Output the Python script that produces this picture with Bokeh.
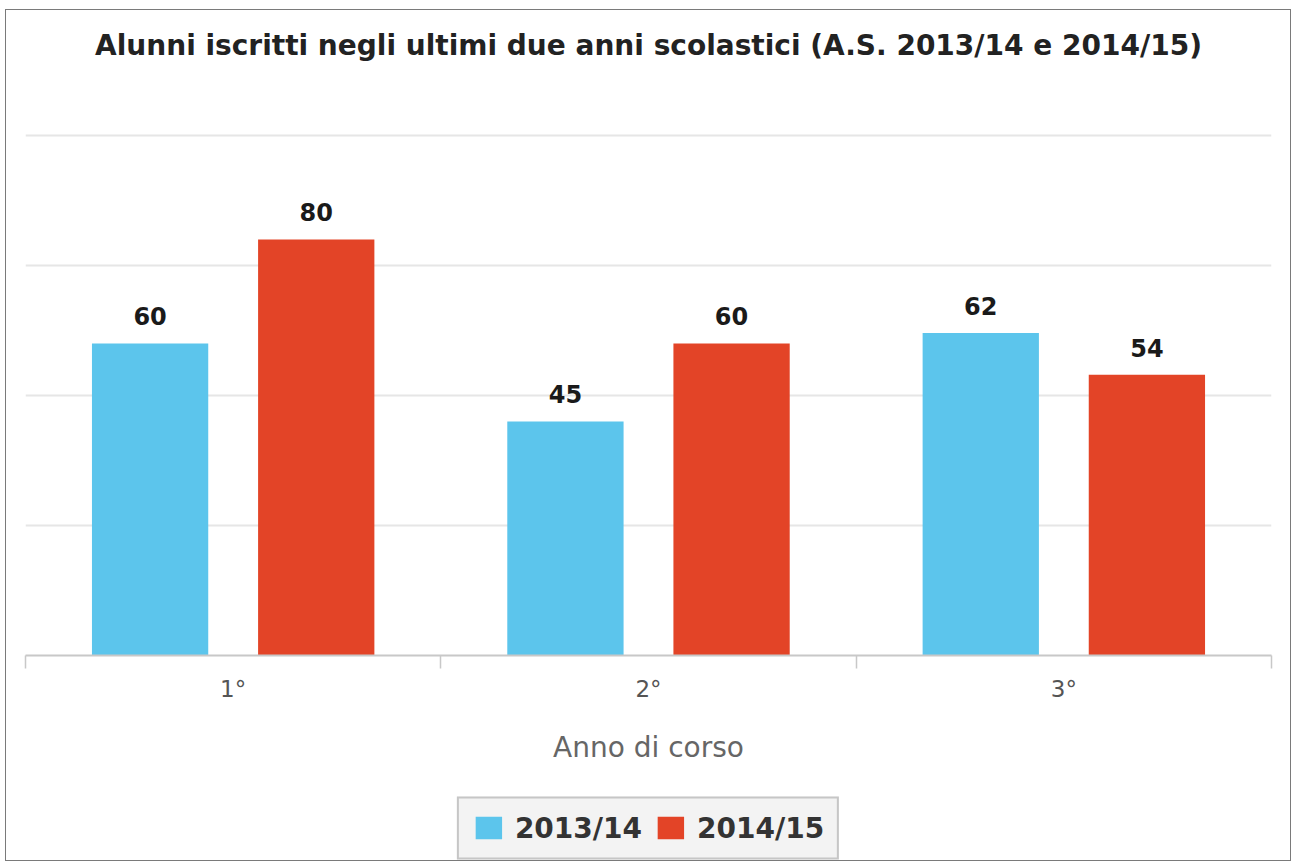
from bokeh.plotting import figure
from bokeh.layouts import column
from bokeh.models import (FixedTicker, Grid, Range1d, Legend, LegendItem,
                          ColumnDataSource, Title)
from bokeh.core.properties import value
from bokeh.embed import file_html
from bokeh.resources import INLINE

# ---- data ----
categories = ["1°", "2°", "3°"]
series_names = ["2013/14", "2014/15"]
values_1314 = [60, 45, 62]
values_1415 = [80, 60, 54]
grid_values = [25, 50, 75, 100]

title_text = "Alunni iscritti negli ultimi due anni scolastici (A.S. 2013/14 e 2014/15)"
x_label = "Anno di corso"

BLUE = "#5CC5EC"
RED = "#E34427"
FONT = "DejaVu Sans"
W = 1284

idx = list(range(len(categories)))
src1 = ColumnDataSource(dict(x=[i + 0.3 for i in idx], top=values_1314,
                             lab=[str(v) for v in values_1314]))
src2 = ColumnDataSource(dict(x=[i + 0.7 for i in idx], top=values_1415,
                             lab=[str(v) for v in values_1415]))

p = figure(width=W, height=785, output_backend="svg", toolbar_location=None,
           x_range=Range1d(0, len(categories)), y_range=Range1d(0, 100.96),
           y_axis_location=None, title=None)
p.min_border_left = 19
p.min_border_right = 19
p.min_border_top = 120
p.min_border_bottom = 140
p.outline_line_color = None
p.xgrid.visible = False
for g in p.ygrid:
    g.visible = False

# spacer between the frame and the title (first "above" item sits next to the frame)
p.add_layout(Title(text=" ", text_font=FONT, text_font_size="10px", standoff=37), "above")
p.add_layout(Title(text=title_text, align="center", vertical_align="top",
                   text_font=FONT, text_font_size="28px", text_font_style="bold",
                   text_color="#222222", standoff=34), "above")

# horizontal gridlines
p.add_layout(Grid(dimension=1, ticker=FixedTicker(ticks=grid_values),
                  grid_line_color="#e6e6e6", grid_line_width=2), "center")

r1 = p.vbar(x="x", top="top", width=0.28, source=src1, fill_color=BLUE, line_color=None)
r2 = p.vbar(x="x", top="top", width=0.28, source=src2, fill_color=RED, line_color=None)

for s in (src1, src2):
    p.text(x="x", y="top", text="lab", source=s, text_font=value(FONT),
           text_font_style="bold", text_font_size="24px", text_color="#1a1a1a",
           text_align="center", text_baseline="alphabetic", y_offset=-27)

# x axis
ax = p.xaxis[0]
ax.ticker = FixedTicker(ticks=[i + 0.5 for i in idx], minor_ticks=list(range(len(categories) + 1)))
ax.major_label_overrides = {i + 0.5: c for i, c in zip(idx, categories)}
ax.major_tick_line_color = None
ax.major_tick_out = 0
ax.major_tick_in = 0
ax.minor_tick_out = 13
ax.minor_tick_in = 0
ax.minor_tick_line_color = "#c8c8c8"
ax.minor_tick_line_width = 1.5
ax.axis_line_color = "#c8c8c8"
ax.axis_line_width = 2
ax.major_label_standoff = 7
ax.major_label_text_font = FONT
ax.major_label_text_font_size = "23px"
ax.major_label_text_color = "#555555"
ax.axis_label = x_label
ax.axis_label_standoff = 26
ax.axis_label_text_font = FONT
ax.axis_label_text_font_size = "28px"
ax.axis_label_text_font_style = "normal"
ax.axis_label_text_color = "#666666"

# ---- legend strip under the chart (its bars lie far outside this strip's y range) ----
pl = figure(width=W, height=65, output_backend="svg", toolbar_location=None,
            x_range=Range1d(0, len(categories)), y_range=Range1d(1000, 1001),
            x_axis_location=None, y_axis_location=None, title=None)
pl.min_border = 0
pl.outline_line_color = None
pl.xgrid.visible = False
pl.ygrid.visible = False
lr1 = pl.vbar(x="x", top="top", width=0.28, source=src1, fill_color=BLUE, line_color=None)
lr2 = pl.vbar(x="x", top="top", width=0.28, source=src2, fill_color=RED, line_color=None)
legend = Legend(items=[LegendItem(label=series_names[0], renderers=[lr1]),
                       LegendItem(label=series_names[1], renderers=[lr2])],
                orientation="horizontal", location="center", margin=0,
                padding=13, spacing=12, label_standoff=10,
                glyph_width=33, glyph_height=28,
                label_text_font=FONT, label_text_font_size="28px",
                label_text_font_style="bold", label_text_color="#333333",
                background_fill_color="#f3f3f3", background_fill_alpha=1,
                border_line_color="#999999", border_line_width=2)
pl.add_layout(legend, "center")

page = column(p, pl, spacing=0,
              styles={"border": "1px solid #7a7a7a", "margin-left": "5px", "margin-top": "9px"})
open("out.html", "w").write(file_html(page, INLINE))
